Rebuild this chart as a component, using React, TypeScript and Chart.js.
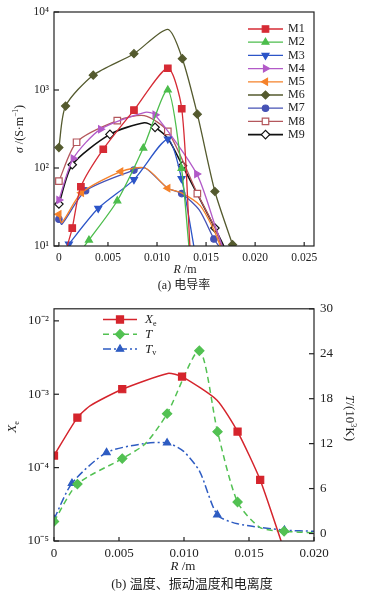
import React, { useEffect, useRef } from 'react';
import { Chart, registerables } from 'chart.js';
import { drawPoint } from 'chart.js/helpers';

Chart.register(...registerables);

// ---------- Chart (a): conductivity ----------
const xTicksA = [0, 0.005, 0.01, 0.015, 0.02, 0.025];
const xTickLabelsA = ['0', '0.005', '0.010', '0.015', '0.020', '0.025'];
const yTicksA = [10, 100, 1000, 10000];
const yTickLabelsA = ['10¹', '10²', '10³', '10⁴'];

// [R (m), sigma (S/m), marker 1/0]
const M1 = [[0.00085, 10, 0], [0.00136, 17, 1], [0.00224, 57.5, 1], [0.00452, 174, 1], [0.00765, 552, 1], [0.0111, 1900, 1], [0.01252, 575, 1], [0.01335, 10, 0]];
const M2 = [[0.0026, 10, 0], [0.00306, 11.9, 1], [0.00595, 38, 1], [0.0086, 180, 1], [0.0111, 1000, 1], [0.0125, 99, 1], [0.01325, 10, 0]];
const M3 = [[0.0009, 10, 0], [0.00102, 10.6, 1], [0.00401, 30.4, 1], [0.00765, 71, 1], [0.0111, 235, 1], [0.0125, 73, 1], [0.01375, 10, 0]];
const M4 = [[0, 39, 1], [0.00146, 132, 1], [0.00425, 315, 1], [0.00878, 516, 0], [0.0098, 480, 1], [0.01405, 84, 1], [0.0160, 17, 0], [0.01665, 10, 0]];
const M5 = [[0, 25.5, 1], [0.0003, 20, 0], [0.0023, 48, 1], [0.0063, 90, 1], [0.0088, 100, 0], [0.0111, 55, 1], [0.0125, 48, 0], [0.0144, 33, 0], [0.0158, 16, 0], [0.01645, 10, 0]];
const M6 = [[0, 183, 1], [0.00068, 623, 1], [0.0035, 1550, 1], [0.00765, 2920, 1], [0.0111, 6000, 0], [0.01258, 2520, 1], [0.01411, 490, 1], [0.0159, 50, 1], [0.0177, 10.4, 1]];
const M7 = [[0, 22, 1], [0.0003, 19, 0], [0.00272, 51, 1], [0.00765, 94, 1], [0.0088, 100, 0], [0.0111, 55, 0], [0.01252, 47, 1], [0.0143, 29, 0], [0.0158, 12.3, 1], [0.0163, 10, 0]];
const M8 = [[0, 68, 1], [0.0018, 214, 1], [0.00595, 404, 1], [0.0087, 470, 0], [0.0111, 295, 1], [0.01411, 47, 1], [0.0159, 17, 0], [0.01655, 10, 0]];
const M9 = [[0, 34.5, 1], [0.00136, 110, 1], [0.0052, 270, 1], [0.0087, 380, 0], [0.0098, 332, 1], [0.0111, 240, 0], [0.0126, 107, 1], [0.0159, 17, 1], [0.0168, 10, 0]];

const seriesNamesA = ['M1', 'M2', 'M3', 'M4', 'M5', 'M6', 'M7', 'M8', 'M9'];

// ---------- Chart (b): temperature & ionization ----------
const xTicksB = [0, 0.005, 0.01, 0.015, 0.02];
const xTickLabelsB = ['0', '0.005', '0.010', '0.015', '0.020'];
const yTicksB = [1e-5, 1e-4, 1e-3, 1e-2];
const yTickLabelsB = ['10⁻⁵', '10⁻⁴', '10⁻³', '10⁻²'];
const y2TicksB = [0, 6, 12, 18, 24, 30];
const y2TickLabelsB = ['0', '6', '12', '18', '24', '30'];

const Xe = [[0, 1.46e-4, 1], [0.0018, 4.8e-4, 1], [0.0028, 7.0e-4, 0], [0.00525, 1.17e-3, 1], [0.00875, 1.92e-3, 0], [0.00985, 1.74e-3, 1], [0.01254, 8.3e-4, 0], [0.01412, 3.1e-4, 1], [0.01586, 6.8e-5, 1], [0.01747, 1e-5, 0]];
const Tgas = [[0, 1.6, 1], [0.0018, 6.6, 1], [0.00525, 10.0, 1], [0.00703, 12.0, 0], [0.0087, 16.0, 1], [0.01118, 24.4, 1], [0.01258, 13.6, 1], [0.01412, 4.2, 1], [0.01586, 0.8, 0], [0.0177, 0.3, 1], [0.02, 0.1, 0]];
const Tv = [[0, 1.9, 1], [0.00138, 6.7, 1], [0.00404, 10.8, 1], [0.0069, 12.0, 0], [0.0087, 12.1, 1], [0.00995, 11.0, 0], [0.0112, 8.3, 0], [0.01256, 2.5, 1], [0.01412, 1.3, 0], [0.01773, 0.45, 1], [0.02, 0.3, 0]];

const SERIF = '"Liberation Serif", "Times New Roman", "Noto Sans CJK SC", serif';

type Part = { t: string; i?: boolean; sub?: boolean; sup?: boolean };

function drawRich(ctx: CanvasRenderingContext2D, parts: Part[], x: number, y: number, size: number, rot = 0, align: 'center' | 'left' = 'center', color = '#222') {
  ctx.save();
  ctx.translate(x, y);
  ctx.rotate(rot);
  const fontFor = (p: Part) => `${p.i ? 'italic ' : ''}${p.sub || p.sup ? size * 0.62 : size}px ${SERIF}`;
  let w = 0;
  parts.forEach((p) => { ctx.font = fontFor(p); w += ctx.measureText(p.t).width; });
  let cx = align === 'center' ? -w / 2 : 0;
  ctx.textBaseline = 'middle';
  ctx.textAlign = 'left';
  ctx.fillStyle = color;
  parts.forEach((p) => {
    ctx.font = fontFor(p);
    const dy = p.sub ? size * 0.32 : p.sup ? -size * 0.3 : 0;
    ctx.fillText(p.t, cx, dy);
    cx += ctx.measureText(p.t).width;
  });
  ctx.restore();
}

const framePlugin = {
  id: 'frameTicks',
  afterDatasetsDraw(chart: any) {
    const { ctx, chartArea: a } = chart;
    ctx.save();
    ctx.strokeStyle = '#222';
    ctx.lineWidth = 1.2;
    ctx.strokeRect(a.left, a.top, a.right - a.left, a.bottom - a.top);
    Object.values(chart.scales).forEach((s: any) => {
      s.ticks.forEach((t: any) => {
        const p = s.getPixelForValue(t.value);
        ctx.beginPath();
        if (s.axis === 'x') {
          ctx.moveTo(p, a.bottom);
          ctx.lineTo(p, a.bottom - 4);
        } else if (s.position === 'left') {
          ctx.moveTo(a.left, p);
          ctx.lineTo(a.left + 5, p);
        } else {
          ctx.moveTo(a.right, p);
          ctx.lineTo(a.right - 5, p);
        }
        ctx.stroke();
      });
    });
    ctx.restore();
  },
};

const textPlugin = {
  id: 'richText',
  afterDraw(chart: any, _args: any, opts: any) {
    const ctx = chart.ctx;
    (opts.items || []).forEach((it: any) => drawRich(ctx, it.parts, it.x, it.y, it.size, it.rot || 0, it.align || 'center'));
  },
};

const legendPlugin = {
  id: 'lineLegend',
  afterDraw(chart: any, _args: any, opts: any) {
    if (!opts.labels) return;
    const ctx = chart.ctx;
    chart.data.datasets.forEach((ds: any, i: number) => {
      const y = opts.y0 + i * opts.dy;
      ctx.save();
      ctx.strokeStyle = ds.borderColor;
      ctx.lineWidth = ds.borderWidth;
      ctx.setLineDash(ds.borderDash || []);
      ctx.beginPath();
      ctx.moveTo(opts.x0, y);
      ctx.lineTo(opts.x1, y);
      ctx.stroke();
      ctx.setLineDash([]);
      ctx.fillStyle = ds.pointBackgroundColor;
      ctx.strokeStyle = ds.pointBorderColor;
      ctx.lineWidth = ds.pointBorderWidth;
      drawPoint(ctx, { pointStyle: ds.pointStyle, rotation: ds.pointRotation || 0, radius: ds.legendRadius, borderWidth: ds.pointBorderWidth }, (opts.x0 + opts.x1) / 2, y);
      ctx.restore();
      drawRich(ctx, opts.labels[i], opts.lx, y, opts.size, 0, 'left');
    });
  },
};

function mkDs(label: string, pts: number[][], color: string, style: string, rot: number, r: number, fill: string, extra: any = {}) {
  return {
    label,
    data: pts.map((p) => ({ x: p[0], y: p[1] })),
    borderColor: color,
    borderWidth: 1.3,
    pointStyle: style,
    pointRotation: rot,
    pointRadius: pts.map((p) => (p[2] ? r : 0)),
    pointBackgroundColor: fill,
    pointBorderColor: color,
    pointBorderWidth: 1.2,
    legendRadius: r,
    tension: 0.25,
    fill: false,
    ...extra,
  };
}

const noGrid = { display: false, drawTicks: false };

function logTickCfg(values: number[], labels: string[], size: number, pad: number) {
  return {
    afterBuildTicks: (s: any) => { s.ticks = values.map((v) => ({ value: v })); },
    ticks: { callback: (_v: any, i: number) => labels[i], font: { family: SERIF, size }, color: '#222', padding: pad, autoSkip: false },
    grid: noGrid,
    border: { display: false },
  };
}

function buildA(canvas: HTMLCanvasElement) {
  const datasets = [
    mkDs('M1', M1, '#d62b35', 'rect', 0, 4.6, '#d62b35'),
    mkDs('M2', M2, '#4cbd4c', 'triangle', 0, 4, '#4cbd4c'),
    mkDs('M3', M3, '#2c55c8', 'triangle', 180, 4, '#2c55c8'),
    mkDs('M4', M4, '#b25ac8', 'triangle', 90, 4, '#b25ac8'),
    mkDs('M5', M5, '#f5822a', 'triangle', 270, 4, '#f5822a'),
    mkDs('M6', M6, '#545a2e', 'rectRot', 0, 4, '#545a2e'),
    mkDs('M7', M7, '#4652b5', 'circle', 0, 3.2, '#4652b5'),
    mkDs('M8', M8, '#b4575c', 'rect', 0, 4.6, '#ffffff'),
    mkDs('M9', M9, '#111111', 'rectRot', 0, 4.2, '#ffffff', { borderWidth: 1.6 }),
  ];
  return new Chart(canvas, {
    type: 'line',
    data: { datasets } as any,
    options: {
      animation: false,
      responsive: false,
      layout: { padding: { left: 0, top: 12, right: 53, bottom: 0 } },
      plugins: {
        legend: { display: false },
        tooltip: { enabled: false },
        lineLegend: { x0: 248, x1: 283, lx: 288, y0: 29, dy: 13.2, size: 12, labels: seriesNamesA.map((n) => [{ t: n }]) },
        richText: {
          items: [
            { parts: [{ t: 'σ', i: true }, { t: ' /(S·m' }, { t: '−1', sup: true }, { t: ')' }], x: 20, y: 129, size: 12, rot: -Math.PI / 2 },
            { parts: [{ t: 'R', i: true }, { t: ' /m' }], x: 185, y: 270, size: 12 },
            { parts: [{ t: '(a) 电导率' }], x: 184, y: 286, size: 12 },
          ],
        },
      },
      scales: {
        x: {
          type: 'linear',
          min: -0.0005,
          max: 0.026,
          afterBuildTicks: (s: any) => { s.ticks = xTicksA.map((v) => ({ value: v })); },
          afterFit: (s: any) => { s.height = 49; },
          ticks: { callback: (_v: any, i: number) => xTickLabelsA[i], font: { family: SERIF, size: 11.5 }, color: '#222', padding: 5, maxRotation: 0, autoSkip: false },
          grid: noGrid,
          border: { display: false },
        },
        y: {
          type: 'logarithmic',
          min: 10,
          max: 10000,
          afterFit: (s: any) => { s.width = 54; },
          ...logTickCfg(yTicksA, yTickLabelsA, 11.5, 5),
        },
      },
    } as any,
    plugins: [framePlugin, textPlugin, legendPlugin],
  });
}

function buildB(canvas: HTMLCanvasElement) {
  const datasets = [
    mkDs('Xe', Xe, '#d5242c', 'rect', 0, 5, '#d5242c', { yAxisID: 'y', borderWidth: 1.5, tension: 0.2 }),
    mkDs('T', Tgas, '#52c152', 'rectRot', 0, 4.6, '#52c152', { yAxisID: 'y2', borderWidth: 1.5, borderDash: [6, 4], tension: 0.25 }),
    mkDs('Tv', Tv, '#2e5cc2', 'triangle', 0, 4.2, '#2e5cc2', { yAxisID: 'y2', borderWidth: 1.5, borderDash: [8, 3, 2, 3], tension: 0.25 }),
  ];
  return new Chart(canvas, {
    type: 'line',
    data: { datasets } as any,
    options: {
      animation: false,
      responsive: false,
      layout: { padding: { left: 0, top: 10, right: 0, bottom: 0 } },
      plugins: {
        legend: { display: false },
        tooltip: { enabled: false },
        lineLegend: {
          x0: 103, x1: 137, lx: 145, y0: 24.5, dy: 14.8, size: 13,
          labels: [[{ t: 'X', i: true }, { t: 'e', sub: true }], [{ t: 'T', i: true }], [{ t: 'T', i: true }, { t: 'v', sub: true }]],
        },
        richText: {
          items: [
            { parts: [{ t: 'X', i: true }, { t: 'e', sub: true }], x: 13, y: 132, size: 13, rot: -Math.PI / 2 },
            { parts: [{ t: 'T', i: true }, { t: '/(10' }, { t: '3', sup: true }, { t: 'K)' }], x: 349, y: 123, size: 13, rot: Math.PI / 2 },
            { parts: [{ t: 'R', i: true }, { t: ' /m' }], x: 183, y: 272, size: 13 },
            { parts: [{ t: '(b) 温度、振动温度和电离度' }], x: 192, y: 290, size: 13 },
          ],
        },
      },
      scales: {
        x: {
          type: 'linear',
          min: 0,
          max: 0.02,
          afterBuildTicks: (s: any) => { s.ticks = xTicksB.map((v) => ({ value: v })); },
          afterFit: (s: any) => { s.height = 54; },
          ticks: { callback: (_v: any, i: number) => xTickLabelsB[i], font: { family: SERIF, size: 13 }, color: '#222', padding: 5, maxRotation: 0, autoSkip: false },
          grid: noGrid,
          border: { display: false },
        },
        y: {
          type: 'logarithmic',
          position: 'left',
          min: 1e-5,
          max: 0.0146,
          afterFit: (s: any) => { s.width = 54; },
          ...logTickCfg(yTicksB, yTickLabelsB, 13, 5),
        },
        y2: {
          type: 'linear',
          position: 'right',
          min: -1,
          max: 30,
          afterBuildTicks: (s: any) => { s.ticks = y2TicksB.map((v) => ({ value: v })); },
          afterFit: (s: any) => { s.width = 53; },
          ticks: { callback: (_v: any, i: number) => y2TickLabelsB[i], font: { family: SERIF, size: 13 }, color: '#222', padding: 6, autoSkip: false },
          grid: noGrid,
          border: { display: false },
        },
      },
    } as any,
    plugins: [framePlugin, textPlugin, legendPlugin],
  });
}

export default function App() {
  const refA = useRef<HTMLCanvasElement>(null);
  const refB = useRef<HTMLCanvasElement>(null);
  useEffect(() => {
    const a = buildA(refA.current!);
    const b = buildB(refB.current!);
    return () => { a.destroy(); b.destroy(); };
  }, []);
  return (
    <div style={{ position: 'absolute', left: 0, top: 0, width: 367, height: 595, background: '#fff' }}>
      <canvas ref={refA} width={367} height={295} style={{ position: 'absolute', left: 0, top: 0, width: 367, height: 295 }} />
      <canvas ref={refB} width={367} height={300} style={{ position: 'absolute', left: 0, top: 295, width: 367, height: 300 }} />
    </div>
  );
}
